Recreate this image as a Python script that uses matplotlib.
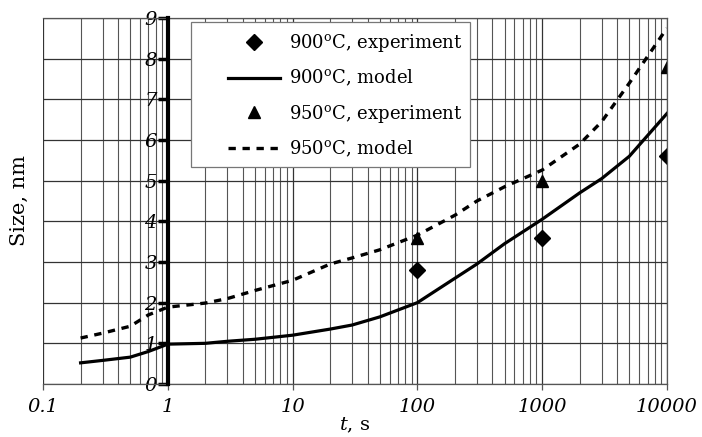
import matplotlib
matplotlib.use("Agg")
import matplotlib.pyplot as plt
from matplotlib.patches import Rectangle
from matplotlib.ticker import LogLocator, NullFormatter

plt.rcParams['font.family'] = ['DejaVu Serif']
plt.rcParams['mathtext.fontset'] = 'dejavuserif'
plt.rcParams['xtick.labelsize'] = 14
plt.rcParams['ytick.labelsize'] = 14

# model curves
t_model = [0.2, 0.3, 0.5, 0.7, 1, 2, 3, 5, 10, 20, 30, 50, 100, 200, 300, 500,
           1000, 2000, 3000, 5000, 10000]
size_900_model = [0.52, 0.58, 0.66, 0.8, 0.98, 1.0, 1.05, 1.1, 1.2, 1.35, 1.45, 1.65,
                  2.0, 2.6, 2.95, 3.45, 4.05, 4.7, 5.05, 5.6, 6.65]
size_950_model = [1.13, 1.25, 1.42, 1.7, 1.89, 1.99, 2.1, 2.3, 2.55, 2.95, 3.1, 3.3,
                  3.66, 4.15, 4.5, 4.85, 5.26, 5.9, 6.45, 7.4, 8.75]

# experiments
t_exp = [100, 1000, 10000]
size_900_exp = [2.8, 3.6, 5.6]
size_950_exp = [3.6, 5.0, 7.8]

x_ticks = [0.1, 1, 10, 100, 1000, 10000]
x_tick_labels = ['0.1', '1', '10', '100', '1000', '10000']
y_ticks = list(range(10))

fig = plt.figure(figsize=(7.02, 4.37), dpi=100)
ax = fig.add_axes([0.0613, 0.1213, 0.8887, 0.8375])

ax.plot(t_exp, size_900_exp, 'kD', ms=8, ls='none', label=r'900$^\mathrm{o}$C, experiment')
ax.plot(t_model, size_900_model, 'k-', lw=2.3, label=r'900$^\mathrm{o}$C, model')
ax.plot(t_exp, size_950_exp, 'k^', ms=9, ls='none', label=r'950$^\mathrm{o}$C, experiment')
ax.plot(t_model, size_950_model, 'k--', lw=2.4, dashes=(2.2, 2), label=r'950$^\mathrm{o}$C, model')

ax.set_xscale('log')
ax.set_xlim(0.1, 10000)
ax.set_ylim(0, 9)

ax.xaxis.set_minor_locator(LogLocator(base=10, subs=range(2, 10)))
ax.xaxis.set_minor_formatter(NullFormatter())
ax.set_xticks(x_ticks)
ax.set_xticklabels(x_tick_labels)
ax.set_yticks(y_ticks)
ax.set_yticklabels([str(v) for v in y_ticks])

ax.grid(True, which='major', color='#333333', lw=0.9)
ax.grid(True, which='minor', axis='x', color='#555555', lw=0.8)

ax.spines['left'].set_position(('data', 1))
ax.spines['left'].set_linewidth(3)
ax.spines['left'].set_zorder(5)
for s in ['top', 'right', 'bottom']:
    ax.spines[s].set_color('#555555')
    ax.spines[s].set_linewidth(0.9)

ax.tick_params(axis='y', direction='out', length=7, width=2.5, pad=1, labelsize=14)
ax.tick_params(axis='x', which='major', direction='out', length=4, width=0.9,
               color='#555555', pad=6, labelsize=14)
ax.tick_params(axis='x', which='minor', length=0)
for lbl in ax.get_xticklabels() + ax.get_yticklabels():
    lbl.set_fontstyle('italic')

ax.set_ylabel('Size, nm', fontsize=15)
ax.yaxis.set_label_coords(-0.022, 0.5)
ax.set_xlabel(r'$\it{t}$, s', fontsize=14, labelpad=0)

# legend box drawn separately so the inner padding can match
box = Rectangle((0.237, 0.593), 0.447, 0.396, transform=ax.transAxes,
                facecolor='white', edgecolor='#777777', lw=0.9, zorder=6)
ax.add_patch(box)
leg = ax.legend(loc='upper left', bbox_to_anchor=(0.276, 0.996), fontsize=13,
                frameon=False, handlelength=2.9, handletextpad=0.5,
                labelspacing=0.78, borderpad=0.2)
leg.set_zorder(7)

fig.savefig('out.png', dpi=100)
